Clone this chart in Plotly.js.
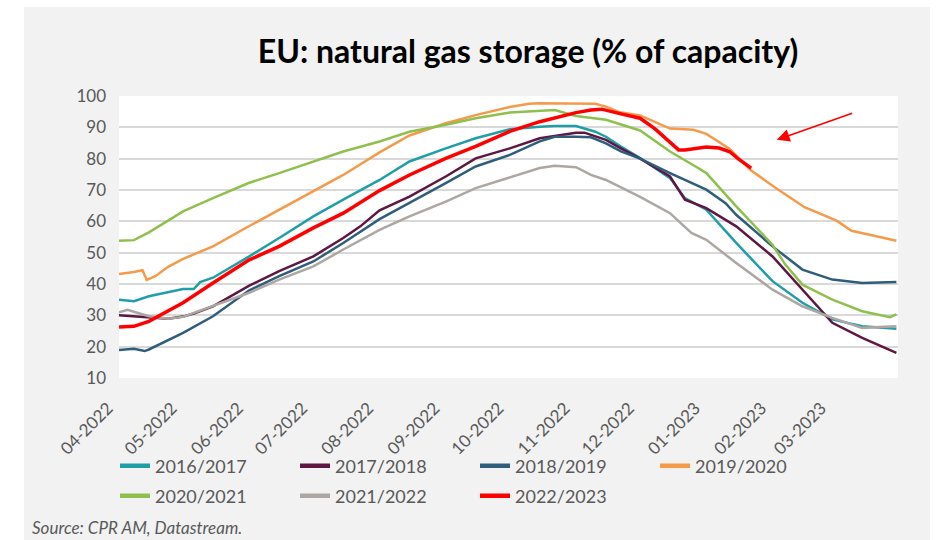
<!DOCTYPE html>
<html>
<head>
<meta charset="utf-8">
<script src="https://cdn.plot.ly/plotly-3.0.1.min.js"></script>
<style>html,body{margin:0;padding:0;background:#fff;}#chart{width:944px;height:540px;}</style>
</head>
<body>
<div id="chart"></div>
<script>
// ---- Data ----
const seriesNames = ["2016/2017","2017/2018","2018/2019","2019/2020","2020/2021","2021/2022","2022/2023"];
const seriesColors = ["#1f9ea8","#5e1742","#2f5e7d","#f59a4a","#8fbf4d","#aca7a2","#ff0000"];

const d1617 = ["2022-04-01","2022-04-08","2022-04-15","2022-04-24","2022-05-01","2022-05-06","2022-05-09","2022-05-15","2022-06-01","2022-06-15","2022-07-01","2022-07-15","2022-08-01","2022-08-15","2022-09-01","2022-09-15","2022-10-01","2022-10-15","2022-10-22","2022-11-01","2022-11-05","2022-11-10","2022-11-15","2022-11-22","2022-12-01","2022-12-15","2022-12-22","2023-01-01","2023-01-15","2023-02-01","2023-02-15","2023-03-01","2023-03-15","2023-03-31"];
const v1617 = [35,34.5,36.1,37.3,38.4,38.4,40.6,42,48.8,54.7,61.6,66.9,73.2,79.1,83.3,86.5,89.4,90.2,90.4,90.4,89.7,88.6,87,83.9,80.2,73.8,67.4,63.7,53.1,40.9,34,28.7,26.5,25.7];

const d1718 = ["2022-04-01","2022-04-15","2022-04-24","2022-05-01","2022-05-06","2022-05-15","2022-06-01","2022-06-15","2022-07-01","2022-07-15","2022-07-23","2022-08-01","2022-08-15","2022-09-01","2022-09-15","2022-10-01","2022-10-15","2022-11-01","2022-11-05","2022-11-08","2022-11-15","2022-11-22","2022-12-01","2022-12-15","2022-12-22","2023-01-01","2023-01-15","2023-02-01","2023-02-15","2023-03-01","2023-03-15","2023-03-31"];
const v1718 = [30,29.2,28.9,29.6,30.6,32.9,39.5,44.1,48.8,54.7,58.4,63.5,67.9,74.3,80.1,83.3,86.5,88.3,88.3,87.6,86,83.3,80,74.3,66.9,64.2,58.4,48.8,38.2,27.6,22.8,18];

const d1819 = ["2022-04-01","2022-04-08","2022-04-13","2022-04-15","2022-05-01","2022-05-15","2022-06-01","2022-06-15","2022-07-01","2022-07-15","2022-08-01","2022-08-15","2022-09-01","2022-09-15","2022-10-01","2022-10-15","2022-10-22","2022-11-01","2022-11-08","2022-11-15","2022-11-22","2022-12-01","2022-12-15","2023-01-01","2023-01-10","2023-01-15","2023-02-01","2023-02-15","2023-03-01","2023-03-15","2023-03-31"];
const v1819 = [18.9,19.3,18.6,19.1,24.4,29.7,38,42.5,47.2,53.1,60.7,65.8,72.2,77.5,81.2,85.5,87,87,86.8,84.9,82.3,80,75.4,70.1,65.8,62.1,52,44.6,41.4,40.3,40.6];

const d1920 = ["2022-04-01","2022-04-08","2022-04-12","2022-04-14","2022-04-18","2022-04-24","2022-05-01","2022-05-15","2022-06-01","2022-06-15","2022-07-01","2022-07-15","2022-08-01","2022-08-15","2022-09-01","2022-09-15","2022-10-01","2022-10-10","2022-10-15","2022-11-01","2022-11-10","2022-11-15","2022-11-21","2022-12-01","2022-12-08","2022-12-15","2022-12-26","2023-01-01","2023-01-12","2023-01-22","2023-02-02","2023-02-16","2023-03-03","2023-03-10","2023-03-20","2023-03-31"];
const v1920 = [43.2,43.8,44.4,41.3,42.5,45.5,48,52,58.5,63.7,69.5,74.8,82,87.4,91.3,93.9,96.5,97.5,97.7,97.7,97.5,96.6,94.9,93.8,91.8,89.6,89.2,87.9,83.1,76.2,70.9,64.5,60.2,57,55.5,53.8];

const d2021 = ["2022-04-01","2022-04-08","2022-04-15","2022-05-01","2022-05-15","2022-06-01","2022-06-15","2022-07-01","2022-07-15","2022-08-01","2022-08-15","2022-09-01","2022-09-15","2022-10-01","2022-10-15","2022-10-22","2022-11-01","2022-11-15","2022-12-01","2022-12-15","2022-12-27","2023-01-01","2023-01-15","2023-02-01","2023-02-07","2023-02-15","2023-02-21","2023-03-01","2023-03-15","2023-03-28","2023-03-31"];
const v2021 = [53.8,54,56.5,63.2,67.4,72.3,75.4,79.1,82.3,85.5,88.6,90.8,92.9,94.7,95.3,95.5,93.6,92.4,89,82.3,77.5,75.4,64.8,52.5,46.2,39.8,37.7,35,31.3,29.4,30.3];

const d2122 = ["2022-04-01","2022-04-05","2022-04-15","2022-04-24","2022-05-01","2022-05-15","2022-06-01","2022-06-15","2022-07-01","2022-07-15","2022-08-01","2022-08-15","2022-09-01","2022-09-15","2022-10-01","2022-10-15","2022-10-22","2022-11-01","2022-11-08","2022-11-15","2022-12-01","2022-12-15","2022-12-25","2023-01-01","2023-01-15","2023-02-01","2023-02-15","2023-03-01","2023-03-15","2023-03-31"];
const v2122 = [31,31.8,29.7,28.9,29.5,32.9,37.2,41.4,45.6,51,57.3,61.6,66.3,70.6,74.1,77,77.7,77.3,74.8,73.2,67.8,62.6,56.3,54.1,46.7,38.2,32.9,29.2,26,26.5];

const d2223 = ["2022-04-01","2022-04-08","2022-04-15","2022-05-01","2022-05-15","2022-06-01","2022-06-15","2022-07-01","2022-07-15","2022-08-01","2022-08-15","2022-09-01","2022-09-15","2022-10-01","2022-10-15","2022-11-01","2022-11-08","2022-11-13","2022-11-22","2022-12-01","2022-12-08","2022-12-15","2022-12-19","2022-12-22","2023-01-01","2023-01-07","2023-01-12","2023-01-16","2023-01-22"];
const v2223 = [26.3,26.5,28.1,34,40.3,47.7,52,57.9,62.6,69.8,74.8,80.1,83.9,88.7,91.8,94.7,95.5,95.8,94.3,92.9,89.5,85.3,82.8,82.8,83.7,83.4,82.2,79.9,77];

const seriesDates = [d1617,d1718,d1819,d1920,d2021,d2122,d2223];
const seriesValues = [v1617,v1718,v1819,v1920,v2021,v2122,v2223];

const yTicks = [10,20,30,40,50,60,70,80,90,100];
const titleText = "EU: natural gas storage (% of capacity)";
const sourceText = "Source: CPR AM, Datastream.";

// ---- Build traces ----
const FONT = "Lato, 'Liberation Sans', sans-serif";
const traces = [];
seriesNames.forEach((name, i) => {
  traces.push({
    type: "scatter", mode: "lines",
    name: name, legendgroup: name, showlegend: false,
    x: seriesDates[i], y: seriesValues[i],
    line: {color: seriesColors[i], width: i === 6 ? 3.5 : 2.5},
    hoverinfo: "skip"
  });
});
// legend entries (no data of their own, thicker sample lines like the original)
seriesNames.forEach((name, i) => {
  traces.push({
    type: "scatter", mode: "lines",
    name: name, legendgroup: name, showlegend: true,
    x: [null], y: [null],
    line: {color: seriesColors[i], width: 4.5},
    legend: i < 4 ? "legend" : "legend2",
    hoverinfo: "skip"
  });
});

const W = 944, H = 540;
const L = 119, R = 46, T = 96, B = 162;
const pw = W - L - R, ph = H - T - B;
const px = v => (v - L) / pw;      // container px -> paper x
const py = v => (H - B - v) / ph;  // container px -> paper y

const legendCommon = {
  orientation: "h", xanchor: "left", yanchor: "middle",
  x: px(115), entrywidth: 135, entrywidthmode: "pixels",
  font: {family: FONT, size: 18, color: "#595959"},
  bgcolor: "rgba(0,0,0,0)", traceorder: "normal"
};

const layout = {
  width: W, height: H,
  paper_bgcolor: "#f2f2f2", plot_bgcolor: "#ffffff",
  margin: {l: L, r: R, t: T, b: B},
  title: {
    text: titleText, xref: "container", yref: "container",
    x: 528 / W, xanchor: "center", y: 1 - 52 / H, yanchor: "middle",
    font: {family: FONT, size: 32, color: "#000000", weight: 700}
  },
  xaxis: {
    type: "date",
    range: ["2022-04-01", "2023-03-31 18:00"],
    tick0: "2022-04-01", dtick: "M1", tickformat: "%m-%Y",
    tickangle: -45, showgrid: false, zeroline: false, showline: false, ticks: "",
    ticklabelstandoff: 16, ticklabelshift: -11,
    tickfont: {family: FONT, size: 17, color: "#595959"}
  },
  yaxis: {
    range: [10, 100], tickvals: yTicks, showgrid: true, gridcolor: "#d9d9d9", gridwidth: 2,
    zeroline: false, showline: false, ticks: "", ticklabelstandoff: 12,
    tickfont: {family: FONT, size: 17, color: "#595959"}
  },
  legend: Object.assign({}, legendCommon, {y: py(466)}),
  legend2: Object.assign({}, legendCommon, {y: py(496)}),
  shapes: [
    {type: "rect", xref: "paper", yref: "paper", x0: px(0), x1: px(24), y0: py(H), y1: py(0), fillcolor: "#ffffff", line: {width: 0}, layer: "below"},
    {type: "rect", xref: "paper", yref: "paper", x0: px(24), x1: px(930), y0: py(7), y1: py(0), fillcolor: "#ffffff", line: {width: 0}, layer: "below"},
    {type: "rect", xref: "paper", yref: "paper", x0: px(930), x1: px(W), y0: py(H), y1: py(0), fillcolor: "#ffffff", line: {width: 0}, layer: "below"}
  ],
  annotations: [
    {text: "", x: "2023-02-03", y: 86, xref: "x", yref: "y",
     ax: "2023-03-11", ay: 94.7, axref: "x", ayref: "y",
     showarrow: true, arrowhead: 2, arrowsize: 1.6, arrowwidth: 1.6, arrowcolor: "#ff0000"},
    {text: sourceText, xref: "paper", yref: "paper", x: px(30), y: py(527),
     xanchor: "left", yanchor: "middle", showarrow: false,
     font: {family: FONT, size: 17, color: "#595959", style: "italic"}}
  ],
  showlegend: true
};

Plotly.newPlot("chart", traces, layout, {staticPlot: true, displayModeBar: false});
</script>
</body>
</html>
